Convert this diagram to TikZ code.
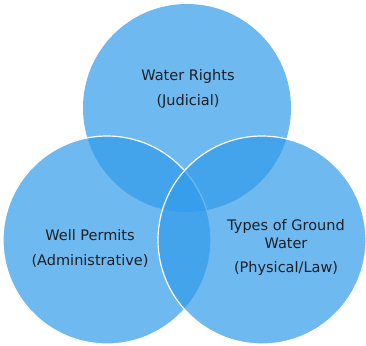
\documentclass[tikz,border=0pt]{standalone}
\usepackage{fontspec}
\setmainfont{DejaVu Sans}
\usepackage{tikz}
\usetikzlibrary{positioning}
\definecolor{venn}{RGB}{48,155,234}
\definecolor{inktext}{RGB}{30,30,35}
\tikzstyle{every set}=[circle, fill=venn, fill opacity=0.7, minimum size=208pt, inner sep=0pt]
\tikzstyle{rim}=[draw=white, line width=1.2pt]
\tikzstyle{label}=[align=center, text=inktext, font=\fontsize{14.5}{25}\selectfont]

\begin{document}
\begin{tikzpicture}[x=1pt, y=-1pt]
    \useasboundingbox (0,0) rectangle (366,345);

    \node [every set] (rights) at (187,108) {};
    \node [every set, rim] (permits) at (107,240) {};
    \node [every set, rim] (types) at (262,240) {};

    \node [label] (rights-text) at (188,89) {Water Rights\\(Judicial)};
    \node [label] (permits-text) at (90,248) {Well Permits\\(Administrative)};
    \node [label, font=\fontsize{14.5}{18}\selectfont] (types-text) at (286,247)
        {Types of Ground\\Water\\[6pt](Physical/Law)};
\end{tikzpicture}
\end{document}
